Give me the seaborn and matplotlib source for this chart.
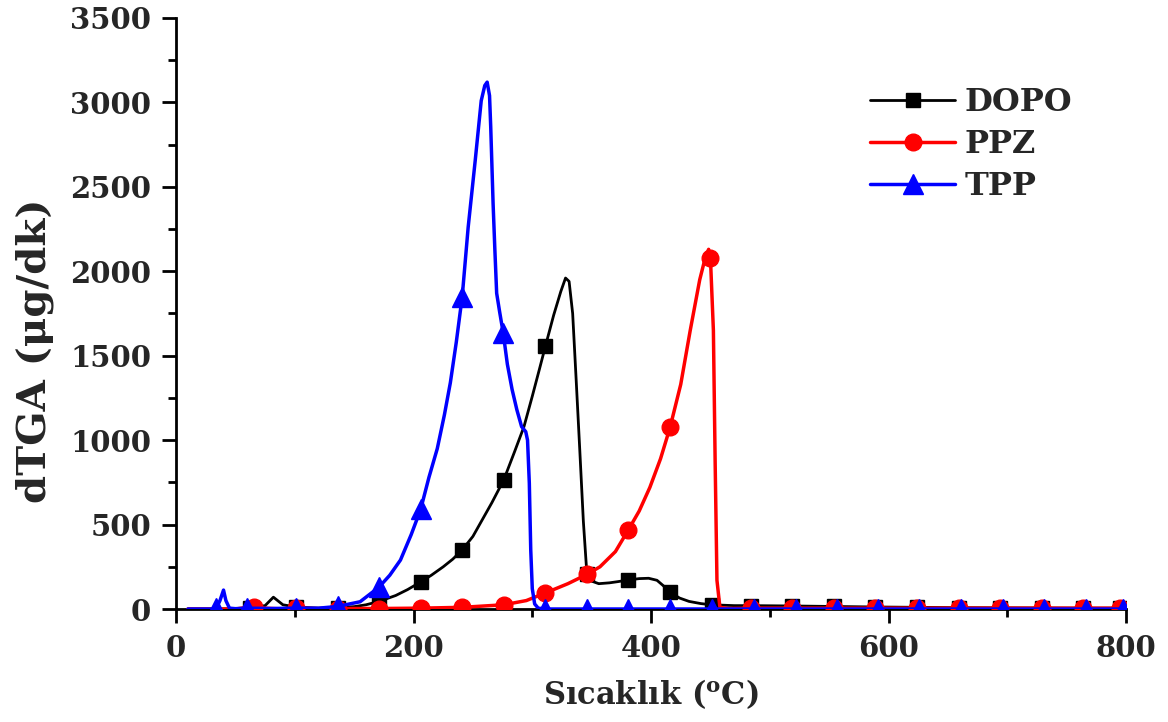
import matplotlib
matplotlib.use("Agg")
import matplotlib.pyplot as plt
from matplotlib.ticker import MultipleLocator
import seaborn as sns

# DOPO curve (temperature in C, dTGA in ug/min)
dopo_x = [10, 30, 50, 62, 75, 82, 90, 101, 120, 136, 150, 160, 171, 185, 195, 206, 215, 225, 233, 241,
          250, 258, 266, 276, 285, 293, 300, 306, 311, 318, 324, 328, 331, 334, 337, 340, 343, 346, 350, 356,
          365, 372, 381, 390, 398, 405, 410, 416, 424, 432, 442, 451, 470, 484, 519, 554, 589, 624, 659, 694,
          729, 764, 795]
dopo_y = [0, 0, 2, 6, 20, 70, 25, 12, 5, 8, 14, 25, 45, 80, 115, 160, 200, 250, 295, 350,
          430, 530, 630, 765, 930, 1080, 1260, 1420, 1555, 1740, 1880, 1960, 1940, 1750, 1350, 940, 520, 205, 165, 150,
          155, 162, 172, 180, 182, 170, 140, 100, 65, 45, 32, 25, 20, 20, 18, 15, 12, 10, 8, 7,
          6, 5, 5]
dopo_marks = [62, 101, 136, 171, 206, 241, 276, 311, 346, 381, 416, 451, 484, 519, 554, 589, 624, 659, 694,
              729, 764, 795]

# PPZ curve
ppz_x = [10, 50, 58, 66, 75, 90, 101, 120, 136, 171, 206, 241, 276, 295, 311, 330, 346, 357, 370, 381,
         390, 399, 408, 416, 425, 433, 441, 446, 448.5, 450, 452.5, 454, 455.5, 458, 465, 484, 519, 554, 589, 624,
         659, 694, 729, 764, 795]
ppz_y = [0, 0, 8, 10, 5, 0, 5, 2, 3, 3, 5, 10, 25, 50, 95, 150, 205, 250, 340, 470,
         580, 720, 890, 1075, 1330, 1650, 1950, 2090, 2130, 2080, 1650, 860, 170, 10, 3, 5, 5, 5, 5, 5,
         5, 5, 5, 5, 5]
ppz_marks = [66, 101, 136, 171, 206, 241, 276, 311, 346, 381, 416, 450, 484, 519, 554, 589, 624, 659, 694,
             729, 764, 795]

# TPP curve
tpp_x = [10, 30, 34, 37, 40, 42, 45, 50, 60, 80, 101, 120, 136, 155, 171, 180, 189, 198, 206, 213,
         220, 226, 231, 236, 241, 246, 252, 257, 260, 262, 264, 265, 267, 268.5, 270, 272.5, 275.5, 279, 283, 287,
         291, 294.5, 296, 297.5, 298.7, 300, 302, 305, 311, 346, 381, 416, 451, 487, 522, 557, 591, 626, 661, 696,
         731, 766, 797]
tpp_y = [0, 0, 5, 50, 112, 50, 5, 2, 5, 3, 5, 5, 15, 43, 130, 200, 290, 440, 590, 780,
         950, 1150, 1340, 1580, 1850, 2260, 2660, 3010, 3100, 3120, 3040, 2855, 2400, 2125, 1870, 1760, 1635, 1450, 1300, 1180,
         1080, 1050, 1000, 745, 350, 120, 30, 5, 0, 0, 0, 0, 0, 0, 0, 0, 0, 0, 0, 0,
         0, 0, 0]
tpp_marks = [34, 60, 101, 136, 171, 206, 241, 275.5, 311, 346, 381, 416, 451, 487, 522, 557, 591, 626, 661,
             696, 731, 766, 797]

series = [
    ("DOPO", dopo_x, dopo_y, dopo_marks, "#000000", "s", 10, 2.0),
    ("PPZ", ppz_x, ppz_y, ppz_marks, "#ff0000", "o", 12, 2.5),
    ("TPP", tpp_x, tpp_y, tpp_marks, "#0000ff", "^", 15, 2.5),
]

sns.set_style("ticks")
plt.rcParams["font.family"] = ["DejaVu Serif"]
plt.rcParams["font.weight"] = "bold"
plt.rcParams["axes.labelweight"] = "bold"
plt.rcParams["mathtext.fontset"] = "custom"
plt.rcParams["mathtext.rm"] = "DejaVu Serif:bold"
plt.rcParams["mathtext.bf"] = "DejaVu Serif:bold"

fig = plt.figure(figsize=(11.68, 7.22), dpi=100)
ax = fig.add_axes([0.1507, 0.1565, 0.8134, 0.8186])

for name, xs, ys, marks, color, marker, msize, lw in series:
    idx = [xs.index(m) for m in marks]
    sns.lineplot(x=xs, y=ys, ax=ax, sort=False, estimator=None, color=color,
                 linewidth=lw, marker=marker, markersize=msize, markevery=idx,
                 markeredgecolor=color, markerfacecolor=color, markeredgewidth=1,
                 label=name, zorder=3)

ax.set_xlim(0, 800)
ax.set_ylim(0, 3500)
ax.xaxis.set_major_locator(MultipleLocator(200))
ax.xaxis.set_minor_locator(MultipleLocator(100))
ax.yaxis.set_major_locator(MultipleLocator(500))
ax.yaxis.set_minor_locator(MultipleLocator(250))
ax.tick_params(which="major", direction="out", length=10, width=2, labelsize=21, pad=8, color="black")
ax.tick_params(which="minor", direction="out", length=6, width=2, color="black")
for lab in ax.get_xticklabels() + ax.get_yticklabels():
    lab.set_fontweight("bold")

sns.despine(ax=ax)
for side in ["left", "bottom"]:
    ax.spines[side].set_linewidth(2)
    ax.spines[side].set_color("black")

ax.set_xlabel("Sıcaklık ($\\mathrm{^{o}}$C)", fontsize=22, fontweight="bold")
ax.set_ylabel("dTGA (μg/dk)", fontsize=29, fontweight="bold")
ax.xaxis.set_label_coords(0.5, -0.115)
ax.yaxis.set_label_coords(-0.128, 0.4365)

ax.legend(loc="upper left", bbox_to_anchor=(0.7305, 0.883), frameon=False,
          fontsize=23, handlelength=2.66, handletextpad=0.3, labelspacing=0.35,
          borderpad=0, borderaxespad=0)

fig.savefig("out.png", dpi=100)
